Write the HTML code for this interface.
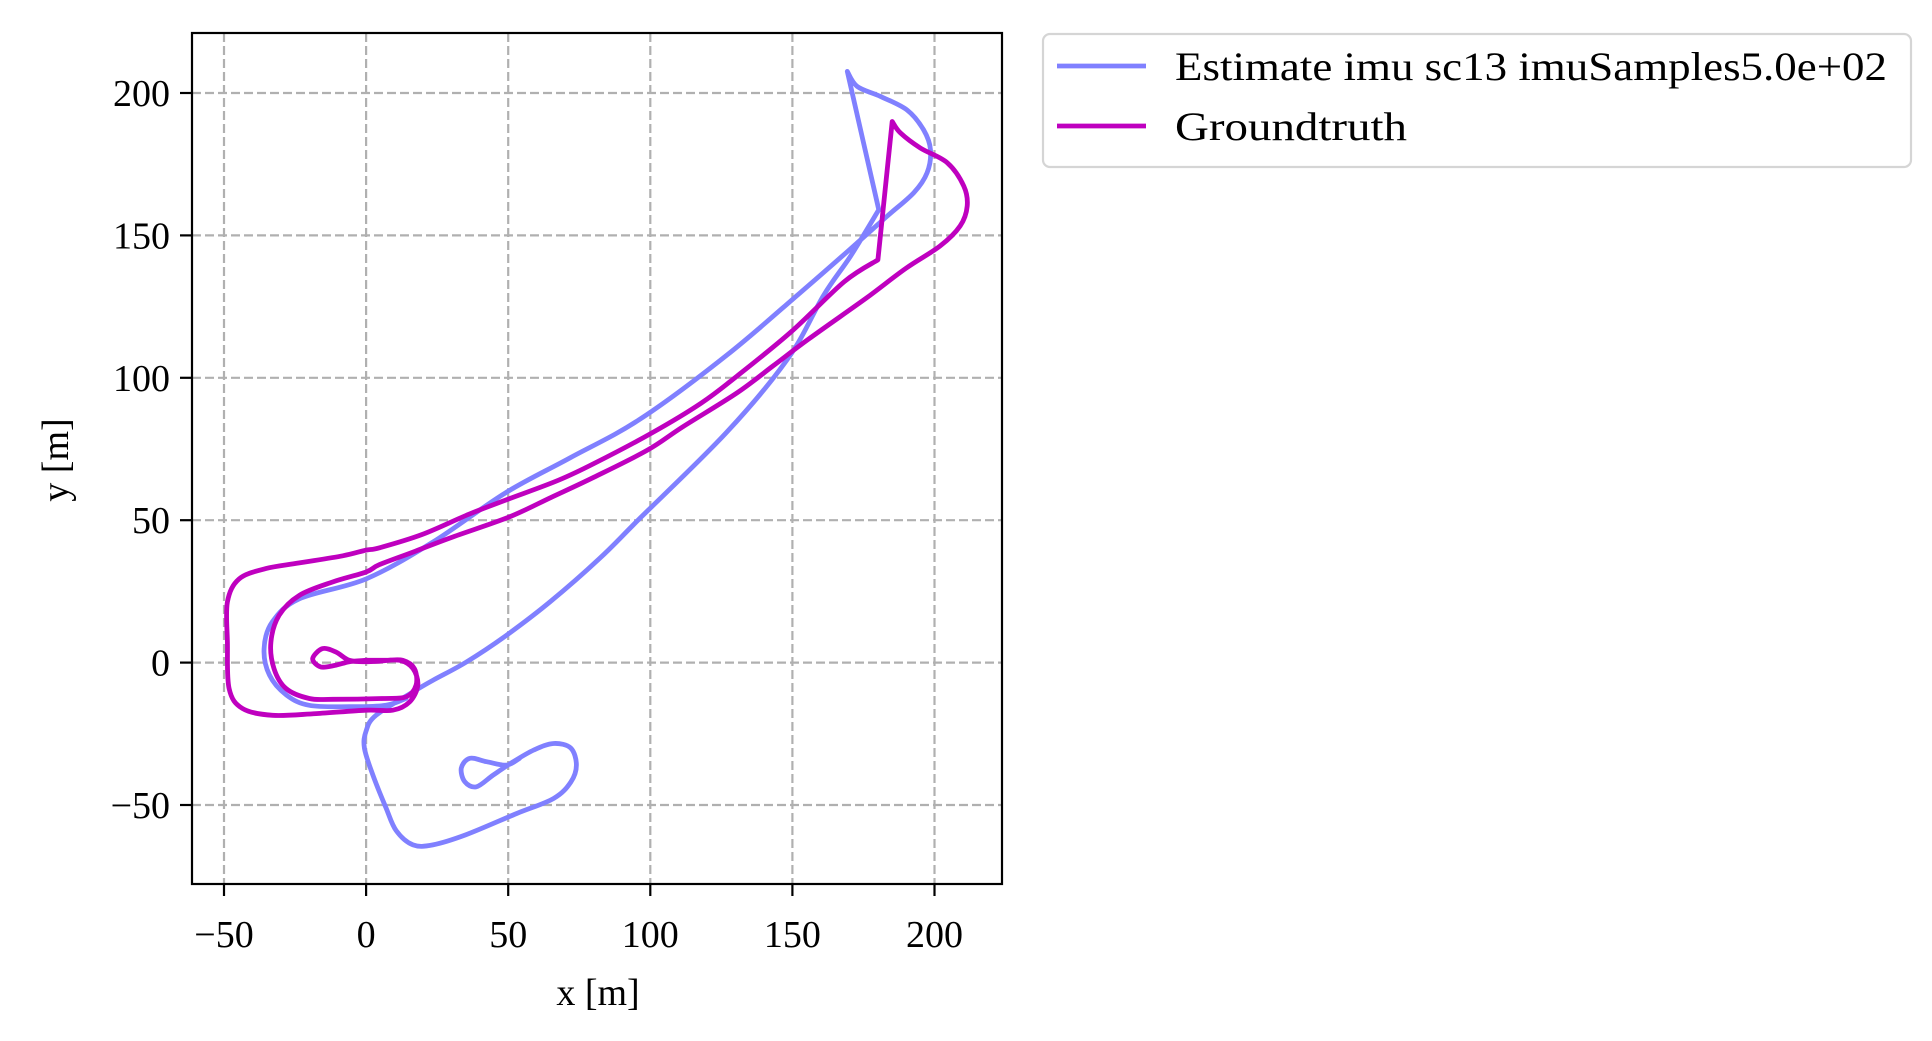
<!DOCTYPE html>
<html><head><meta charset="utf-8"><style>
html,body{margin:0;padding:0;background:#fff;}
svg{display:block;font-family:"Liberation Serif",serif;}
</style></head><body>
<svg id="chart" width="1932" height="1041" viewBox="0 0 1932 1041">
<rect width="1932" height="1041" fill="#fff"/>
<g id="grid"></g>
<g id="series"></g>
<rect x="192" y="33" width="810" height="851" fill="none" stroke="#000" stroke-width="2.2"/>
<g id="ticks"></g>
<text x="598" y="1005" font-size="38" text-anchor="middle">x [m]</text>
<text x="0" y="0" font-size="38" text-anchor="middle" transform="translate(68,460) rotate(-90)">y [m]</text>
<g>
<rect x="1043" y="34" width="868" height="133" rx="7" fill="#fff" stroke="#d5d5d5" stroke-width="2.2"/>
<line x1="1057" y1="66" x2="1146" y2="66" stroke="#8080ff" stroke-width="4.8"/>
<text x="1175" y="80" font-size="40" textLength="712" lengthAdjust="spacingAndGlyphs">Estimate imu sc13 imuSamples5.0e+02</text>
<line x1="1057" y1="126" x2="1146" y2="126" stroke="#bf00bf" stroke-width="4.8"/>
<text x="1175" y="140" font-size="40" textLength="232" lengthAdjust="spacingAndGlyphs">Groundtruth</text>
</g>
</svg>
<script>
const xTicks = [-50, 0, 50, 100, 150, 200];
const yTicks = [-50, 0, 50, 100, 150, 200];
const estX = [54,49.4,42.4,36.5,33.5,34.7,38.8,44.7,51.8,59,66,72,74,72,66,53,35,23.5,16.5,10.6,7,2.4,-0.6,0,3.5,16.5,23.5,35.3,49.4,64.7,82,96.6,127,148.6,161,170.5,180.4,169.3,172.8,181,190.4,196.2,198.6,197.4,192.7,183.4,171.6,152.9,127,96.6,72,49,23.5,0,-23.5,-33,-35.9,-34,-28,-20,-5.9,7,14];
const estY = [-33.6,-36,-34.8,-33.6,-37,-41.8,-43.6,-39.5,-34.8,-30.7,-28.4,-30,-36,-42,-47.7,-53,-60.5,-64,-64,-59,-51,-39.5,-30,-24,-18.5,-10.3,-6.2,0.2,9.6,21.3,36.4,50.9,81,107,129,142.8,159,207.6,202.3,198.8,194,187,180,172,165,156.8,146.3,130,108,85.6,72,59.6,42.3,29.4,22.4,14.3,4.9,-4.4,-11.4,-15,-15.5,-15,-12.6];
const gtX = [0,7,12.9,17,17.6,14.1,5.9,-11.8,-20,-28.2,-32.4,-33.5,-30.6,-23.5,-11.8,0,4.7,17.3,29.9,50,65.1,80.2,99,111.6,130.5,143.1,155.7,176,190,202,209,211.5,210.3,204.5,195,188,185.1,180.1,168.2,149.4,130.5,117.9,100.3,80.2,67.6,50,36.2,19.8,4.7,0,-8.2,-23.5,-35.3,-44.7,-48.8,-48.8,-48.2,-43.5,-32.9,-17.6,0,9.4,15.3,18.2,16.5,11.8,4.7,0,-5.9,-10.6,-15.3,-18.8,-16,-11,-5.9,0];
const gtY = [0.8,0.8,0.8,-2.1,-7.9,-12,-12.6,-12.9,-12.6,-9.1,-2.1,7.2,16.6,23.6,28.3,31.8,34.4,39.1,43.9,51,58,65.1,74.6,82.9,94.7,104.1,113.6,128,138.5,146.3,153.3,160.3,167.3,175.5,180.7,186,190,141.4,133.7,116,100.6,91.1,80.5,69.9,64,57.4,52.1,45,40.3,39.5,37.5,35,33,29.4,21.3,7.2,-9.1,-16.1,-18.5,-17.9,-16.7,-16.7,-13.8,-7.9,-2.1,0.8,0.5,0.3,0.8,3.7,4.9,1.4,-1.5,-1,0.3,0.8];
const estCorners = [36, 37];
const gtCorners = [36, 37];

const NS = 'http://www.w3.org/2000/svg';
const L = 192, R = 1002, T = 33, B = 884;
function sx(v){ return 224 + (v + 50) * 2.842; }
function sy(v){ return 662.6 - v * 2.848; }
function mk(tag, attrs, parent){
  const e = document.createElementNS(NS, tag);
  for (const k in attrs) e.setAttribute(k, attrs[k]);
  parent.appendChild(e);
  return e;
}
const grid = document.getElementById('grid');
const ticks = document.getElementById('ticks');
xTicks.forEach(v => {
  const x = sx(v);
  const g = mk('line', {x1:x, y1:T, x2:x, y2:B, stroke:'#b0b0b0', 'stroke-width':2.2, 'stroke-dasharray':'9,4'}, grid);
  
  
  const t = mk('line', {x1:x, y1:B, x2:x, y2:B+12, stroke:'#000', 'stroke-width':2.2}, ticks);
  
  
  const lb = mk('text', {x:x, y:947, 'font-size':38, 'text-anchor':'middle'}, ticks);
  lb.textContent = String(v).replace('-', '\u2212');
  
  
});
yTicks.forEach(v => {
  const y = sy(v);
  const g = mk('line', {x1:L, y1:y, x2:R, y2:y, stroke:'#b0b0b0', 'stroke-width':2.2, 'stroke-dasharray':'9,4'}, grid);
  
  
  const t = mk('line', {x1:L-12, y1:y, x2:L, y2:y, stroke:'#000', 'stroke-width':2.2}, ticks);
  
  
  const lb = mk('text', {x:L-22, y:y+13, 'font-size':38, 'text-anchor':'end'}, ticks);
  lb.textContent = String(v).replace('-', '\u2212');
  
  
});
function smoothPath(xs, ys, corners){
  const P = xs.map((x,i) => [sx(x), sy(ys[i])]);
  let d = 'M' + P[0][0].toFixed(1) + ',' + P[0][1].toFixed(1);
  const cs = new Set(corners);
  for (let i = 0; i < P.length - 1; i++){
    const p1 = P[i], p2 = P[i+1];
    const p0 = (i === 0 || cs.has(i)) ? p1 : P[i-1];
    const p3 = (i + 2 >= P.length || cs.has(i+1)) ? p2 : P[i+2];
    const c1 = [p1[0] + (p2[0]-p0[0])/6, p1[1] + (p2[1]-p0[1])/6];
    const c2 = [p2[0] - (p3[0]-p1[0])/6, p2[1] - (p3[1]-p1[1])/6];
    d += ' C' + c1[0].toFixed(1) + ',' + c1[1].toFixed(1) + ' ' + c2[0].toFixed(1) + ',' + c2[1].toFixed(1) + ' ' + p2[0].toFixed(1) + ',' + p2[1].toFixed(1);
  }
  return d;
}
const series = document.getElementById('series');
const est = mk('path', {d: smoothPath(estX, estY, estCorners), fill:'none', stroke:'#8080ff', 'stroke-width':4.8, 'stroke-linejoin':'round', 'stroke-linecap':'round'}, series);


const gt = mk('path', {d: smoothPath(gtX, gtY, gtCorners), fill:'none', stroke:'#bf00bf', 'stroke-width':4.8, 'stroke-linejoin':'round', 'stroke-linecap':'round'}, series);


</script>
</body></html>
